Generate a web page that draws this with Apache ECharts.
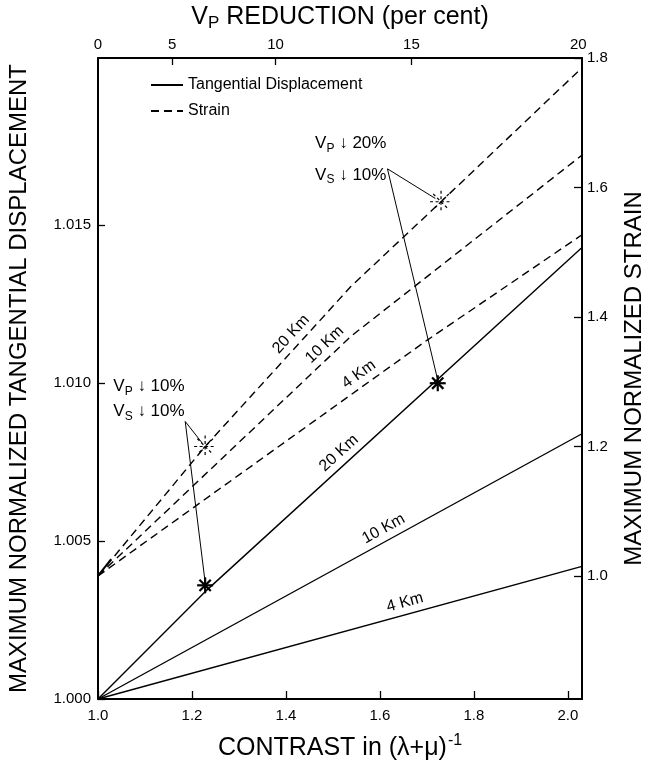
<!DOCTYPE html>
<html><head><meta charset="utf-8">
<script src="https://cdn.jsdelivr.net/npm/echarts@6/dist/echarts.min.js"></script>
<style>html,body{margin:0;padding:0;background:#fff}#c{width:647px;height:765px}</style>
</head><body><div id="c"></div>
<script>
// ---------- data ----------
const contrastTicks = [1.0, 1.2, 1.4, 1.6, 1.8, 2.0];
const vpReductionLabels = ['0', '5', '10', '15', '20'];
const vpReductionPos = [1.0, 1.158, 1.378, 1.667, 2.022];
const dispTicks = [1.000, 1.005, 1.010, 1.015];
const strainTicks = [1.0, 1.2, 1.4, 1.6, 1.8];

// tangential displacement (left axis)
const disp20 = [[1.0, 1.0], [1.228, 1.0034], [2.03, 1.0143]];
const disp10 = [[1.0, 1.0], [2.03, 1.0084]];
const disp4  = [[1.0, 1.0], [2.03, 1.0042]];
// strain (right axis)
const strain20 = [[1.0, 1.0], [1.228, 1.200], [1.538, 1.447], [1.730, 1.578], [2.03, 1.785]];
const strain10 = [[1.0, 1.0], [1.538, 1.370], [2.03, 1.650]];
const strain4  = [[1.0, 1.0], [1.70, 1.364], [2.03, 1.527]];
const strainStem = [[1.0, 1.0], [1.028, 1.026]];

// star markers
const strainStars = [[1.228, 1.200], [1.730, 1.578]];
const dispStars = [[1.228, 1.0036], [1.723, 1.0100]];

// leader lines (left axis units)
const leaderLowA = [[1.1856, 1.00879], [1.222, 1.00810]];
const leaderLowB = [[1.1856, 1.00879], [1.228, 1.0037]];
const leaderUpA = [[1.616, 1.01679], [1.718, 1.01585]];
const leaderUpB = [[1.616, 1.01679], [1.723, 1.0101]];

// curve labels
const curveLabelText = ['20 Km', '10 Km', '4 Km', '20 Km', '10 Km', '4 Km'];
const curveLabelAxis = ['s', 's', 's', 'd', 'd', 'd'];
const curveLabelX = [1.43, 1.50, 1.57, 1.53, 1.62, 1.66];

// annotation texts (left axis units, left-aligned)
const annoLow = [[1.0326, 1.00990, 'P', '10%'], [1.0326, 1.00911, 'S', '10%']];
const annoUp = [[1.462, 1.01759, 'P', '20%'], [1.462, 1.01660, 'S', '10%']];

// ---------- chart ----------
const FONT = '"Liberation Sans", Arial, Helvetica, sans-serif';
const chart = echarts.init(document.getElementById('c'));
const black = '#000';

function solid(data) {
  return { type: 'line', name: 'Tangential Displacement', xAxisIndex: 0, yAxisIndex: 0, data, symbol: 'none',
    lineStyle: { color: black, width: 1.4 }, itemStyle: { color: black }, silent: true, z: 3, animation: false };
}
function dashed(data) {
  return { type: 'line', name: 'Strain', xAxisIndex: 0, yAxisIndex: 1, data, symbol: 'none',
    lineStyle: { color: black, width: 1.4, type: [8, 5] }, itemStyle: { color: black }, silent: true, z: 3, animation: false };
}
function plain(data, yIdx, w) {
  return { type: 'line', xAxisIndex: 0, yAxisIndex: yIdx, data, symbol: 'none',
    lineStyle: { color: black, width: w }, silent: true, z: 2, animation: false };
}
function starSeries(data, yIdx, dashedStar) {
  return {
    type: 'custom', xAxisIndex: 0, yAxisIndex: yIdx, data, silent: true, z: 5, animation: false,
    renderItem: function (params, api) {
      const p = api.coord([api.value(0), api.value(1)]);
      const r = dashedStar ? 11 : 8;
      const children = [];
      for (let k = 0; k < 4; k++) {
        const a = k * Math.PI / 4;
        const dx = Math.cos(a) * r, dy = Math.sin(a) * r;
        children.push({ type: 'line', shape: { x1: p[0] - dx, y1: p[1] - dy, x2: p[0] + dx, y2: p[1] + dy },
          style: { stroke: black, lineWidth: dashedStar ? 1.2 : 2.2, lineDash: dashedStar ? [3, 2.5] : null } });
      }
      return { type: 'group', children };
    }
  };
}

const option = {
  backgroundColor: '#fff',
  animation: false,
  grid: { left: 98, right: 65, top: 58, bottom: 66, containLabel: false, outerBoundsMode: 'none' },
  legend: {
    data: ['Tangential Displacement', 'Strain'], orient: 'vertical', left: 145, top: 72,
    itemWidth: 32, itemHeight: 12, itemGap: 10, selectedMode: false,
    itemStyle: { opacity: 0 },
    textStyle: { fontSize: 16, fontFamily: FONT, color: black }
  },
  xAxis: [
    {
      type: 'value', position: 'bottom', min: 1.0, max: 2.03,
      axisLine: { show: true, lineStyle: { color: black, width: 2 } },
      axisTick: { show: true, inside: true, length: 8, customValues: contrastTicks, lineStyle: { color: black, width: 1.3 } },
      axisLabel: { customValues: contrastTicks, formatter: v => v.toFixed(1), fontSize: 15, margin: 9, color: black, fontFamily: FONT },
      splitLine: { show: false },
      name: '{a|CONTRAST in (λ+μ)}{b|-1}', nameLocation: 'middle', nameGap: 34,
      nameTextStyle: { rich: { a: { fontSize: 25, fontFamily: FONT, color: black }, b: { fontSize: 16, fontFamily: FONT, color: black, padding: [0, 0, 15, 1] } } }
    },
    {
      type: 'value', position: 'top', min: 1.0, max: 2.03,
      axisLine: { show: true, lineStyle: { color: black, width: 2 } },
      axisTick: { show: true, inside: true, length: 7, customValues: vpReductionPos.slice(1, 4), lineStyle: { color: black, width: 1.3 } },
      axisLabel: { customValues: vpReductionPos, margin: 6, fontSize: 15, color: black, fontFamily: FONT,
        formatter: v => { const i = vpReductionPos.findIndex(p => Math.abs(p - v) < 1e-6); return i >= 0 ? vpReductionLabels[i] : ''; } },
      splitLine: { show: false },
      name: '{a|V}{s|P}{a| REDUCTION (per cent)}', nameLocation: 'middle', nameGap: 24,
      nameTextStyle: { rich: { a: { fontSize: 25, fontFamily: FONT, color: black }, s: { fontSize: 17, fontFamily: FONT, color: black, padding: [13, 0, 0, 0] } } }
    }
  ],
  yAxis: [
    {
      type: 'value', position: 'left', min: 1.0, max: 1.0203,
      axisLine: { show: true, lineStyle: { color: black, width: 2 } },
      axisTick: { show: true, inside: true, length: 7, customValues: dispTicks, lineStyle: { color: black, width: 1.3 } },
      axisLabel: { customValues: dispTicks, formatter: v => v.toFixed(3), fontSize: 15, margin: 7, color: black, fontFamily: FONT },
      splitLine: { show: false },
      name: 'MAXIMUM NORMALIZED TANGENTIAL DISPLACEMENT', nameLocation: 'middle', nameGap: 67, nameRotate: 90,
      nameTextStyle: { fontSize: 24, fontFamily: FONT, color: black }
    },
    {
      type: 'value', position: 'right', min: 0.81, max: 1.8,
      axisLine: { show: true, lineStyle: { color: black, width: 2 } },
      axisTick: { show: true, inside: true, length: 8, customValues: strainTicks, lineStyle: { color: black, width: 1.3 } },
      axisLabel: { customValues: strainTicks, formatter: v => v.toFixed(1), fontSize: 15, margin: 5, color: black, fontFamily: FONT },
      splitLine: { show: false },
      name: 'MAXIMUM NORMALIZED STRAIN', nameLocation: 'middle', nameGap: 40, nameRotate: 90,
      nameTextStyle: { fontSize: 24, fontFamily: FONT, color: black }
    }
  ],
  series: [
    solid(disp20), solid(disp10), solid(disp4),
    dashed(strain20), dashed(strain10), dashed(strain4),
    plain(strainStem, 1, 2),
    plain(leaderLowA, 0, 1), plain(leaderLowB, 0, 1), plain(leaderUpA, 0, 1), plain(leaderUpB, 0, 1),
    starSeries(strainStars, 1, true), starSeries(dispStars, 0, false)
  ]
};
chart.setOption(option);

// ---------- text annotations placed through the axes ----------
const curveData = { s: [strain20, strain10, strain4], d: [disp20, disp10, disp4] };
const graphics = [];
function toPx(pt, yIdx) { return chart.convertToPixel({ xAxisIndex: 0, yAxisIndex: yIdx }, pt); }
curveLabelText.forEach((txt, i) => {
  const ax = curveLabelAxis[i];
  const yIdx = ax === 'd' ? 0 : 1;
  const data = curveData[ax][i % 3];
  const x = curveLabelX[i];
  let seg = null;
  for (let k = 0; k < data.length - 1; k++) if (x >= data[k][0] && x <= data[k + 1][0]) seg = [data[k], data[k + 1]];
  const p1 = toPx(seg[0], yIdx), p2 = toPx(seg[1], yIdx);
  const t = (x - seg[0][0]) / (seg[1][0] - seg[0][0]);
  const px = p1[0] + (p2[0] - p1[0]) * t, py = p1[1] + (p2[1] - p1[1]) * t;
  const ang = Math.atan2(p1[1] - p2[1], p2[0] - p1[0]);
  graphics.push({ type: 'text', x: px, y: py, rotation: ang, z: 10,
    style: { text: txt, x: 0, y: -4, align: 'center', verticalAlign: 'bottom', fontSize: 16, fontFamily: FONT, fill: black } });
});
function anno(list) {
  list.forEach(a => {
    const p = toPx([a[0], a[1]], 0);
    graphics.push({ type: 'text', x: p[0], y: p[1], z: 10,
      style: { text: '{v|V}{s|' + a[2] + '}{t| ↓ ' + a[3] + '}', align: 'left', verticalAlign: 'middle',
        rich: { v: { fontSize: 17, fontFamily: FONT, fill: black }, s: { fontSize: 12, fontFamily: FONT, fill: black, padding: [10, 0, 0, 0] },
          t: { fontSize: 17, fontFamily: FONT, fill: black } } } });
  });
}
anno(annoLow); anno(annoUp);
chart.setOption({ graphic: graphics });
</script></body></html>
